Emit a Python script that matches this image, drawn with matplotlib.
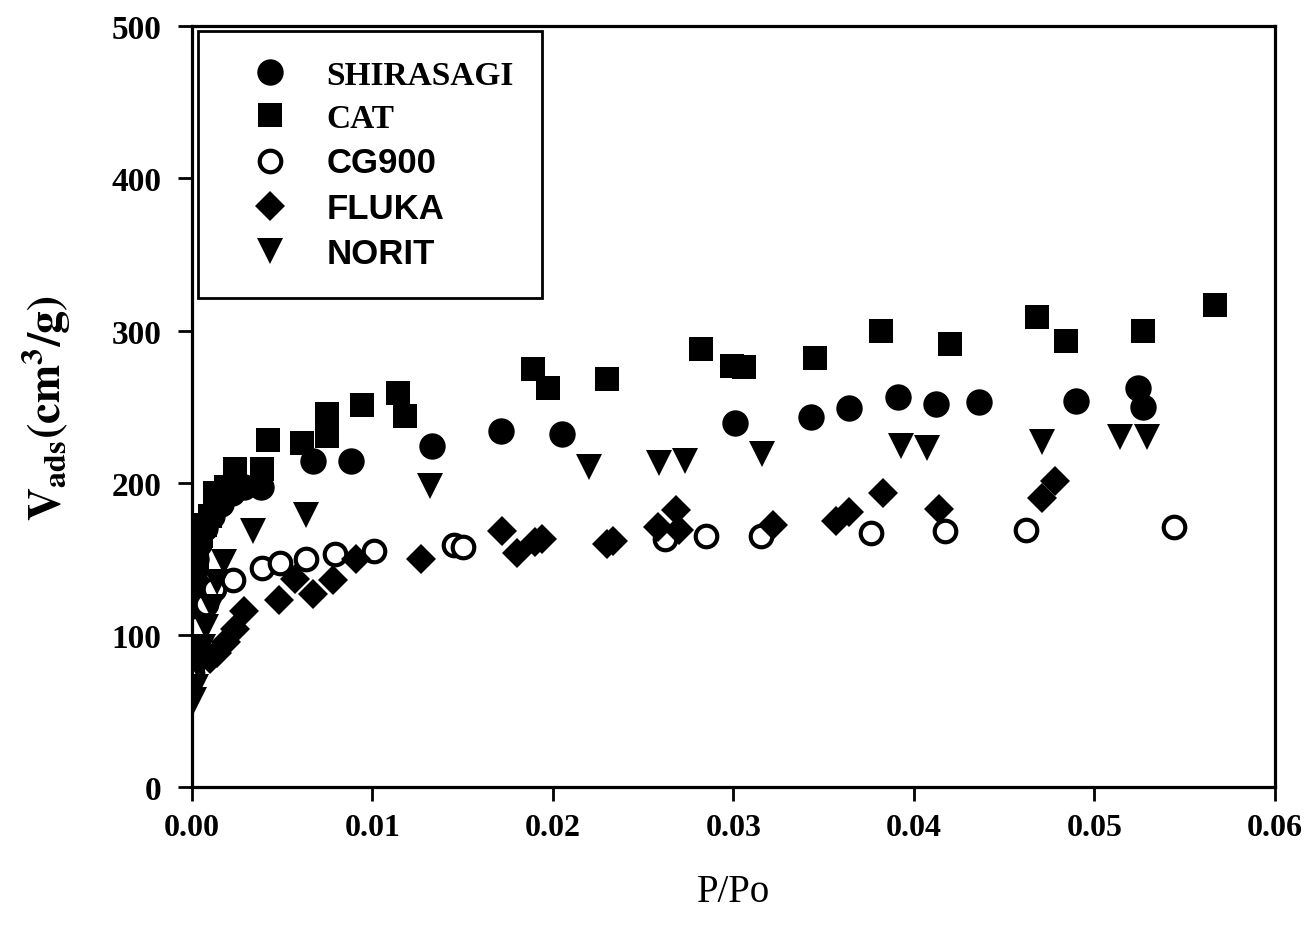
import matplotlib
matplotlib.use("Agg")
import matplotlib.pyplot as plt

# P/Po and adsorbed volume (cm3/g)
shirasagi_x = [0.0001, 0.0002, 0.0004, 0.0007, 0.0011, 0.0016, 0.0022, 0.0029, 0.0038,
               0.0067, 0.0088, 0.0133, 0.0171, 0.0205, 0.0301, 0.0343, 0.0364,
               0.0391, 0.0412, 0.0436, 0.0490, 0.0524, 0.0527]
shirasagi_y = [140, 150, 160, 170, 178, 186, 193, 197, 197,
               214, 214, 224, 234, 232, 239, 243, 249,
               256, 252, 253, 254, 262, 250]

cat_x = [0.0001, 0.0002, 0.0003, 0.0005, 0.0007, 0.0010, 0.0013, 0.0019, 0.0024, 0.0039,
         0.0042, 0.0061, 0.0075, 0.0075, 0.0094, 0.0114, 0.0118, 0.0189, 0.0197, 0.0230,
         0.0282, 0.0299, 0.0306, 0.0345, 0.0382, 0.0420, 0.0468, 0.0484, 0.0527, 0.0567]
cat_y = [110, 130, 150, 165, 172, 178, 193, 197, 209, 209,
         228, 226, 231, 245, 251, 259, 244, 275, 262, 268,
         288, 277, 276, 282, 300, 291, 309, 293, 300, 317]

cg900_x = [0.0000, 0.0001, 0.0003, 0.0008, 0.0012, 0.0023, 0.0039, 0.0049, 0.0063, 0.0079,
           0.0101, 0.0145, 0.0150, 0.0262, 0.0285, 0.0315, 0.0376, 0.0417, 0.0462, 0.0544]
cg900_y = [75, 85, 105, 120, 130, 136, 144, 147, 150, 153,
           155, 159, 158, 163, 165, 165, 167, 168, 169, 171]

fluka_x = [0.0003, 0.0006, 0.0010, 0.0014, 0.0019, 0.0024, 0.0029, 0.0048, 0.0057, 0.0067,
           0.0078, 0.0091, 0.0127, 0.0172, 0.0180, 0.0190, 0.0194, 0.0230, 0.0233, 0.0258,
           0.0268, 0.0270, 0.0322, 0.0357, 0.0364, 0.0383, 0.0414, 0.0471, 0.0478]
fluka_y = [90, 86, 84, 88, 95, 104, 116, 123, 137, 127,
           136, 150, 150, 168, 154, 161, 163, 160, 162, 171,
           182, 169, 172, 175, 181, 193, 183, 190, 201]

norit_x = [0.0001, 0.0002, 0.0004, 0.0006, 0.0008, 0.0011, 0.0014, 0.0018, 0.0034, 0.0063,
           0.0132, 0.0220, 0.0259, 0.0273, 0.0316, 0.0393, 0.0407, 0.0471, 0.0514, 0.0529]
norit_y = [57, 66, 78, 92, 105, 118, 135, 148, 168, 179,
           198, 210, 213, 214, 219, 224, 223, 227, 230, 230]

x_ticks = [0.00, 0.01, 0.02, 0.03, 0.04, 0.05, 0.06]
y_ticks = [0, 100, 200, 300, 400, 500]

plt.rcParams['mathtext.fontset'] = 'stix'
serif = 'Liberation Serif'
sans = 'Liberation Sans'

fig = plt.figure(figsize=(13.13, 9.37), dpi=100)
ax = fig.add_axes([0.1462, 0.159, 0.8248, 0.812])

ax.plot(shirasagi_x, shirasagi_y, 'o', color='black', ms=19, mew=0, label='SHIRASAGI')
ax.plot(cat_x, cat_y, 's', color='black', ms=17, mew=0, label='CAT')
ax.plot(cg900_x, cg900_y, 'o', mfc='white', mec='black', ms=15.5, mew=3, label='CG900')
ax.plot(fluka_x, fluka_y, 'D', color='black', ms=15.5, mew=0, label='FLUKA')
ax.plot(norit_x, norit_y, 'v', color='black', ms=19, mew=0, label='NORIT')

ax.set_xlim(0, 0.06)
ax.set_ylim(0, 500)
ax.set_xticks(x_ticks)
ax.set_yticks(y_ticks)
ax.set_xticklabels(['%.2f' % t for t in x_ticks], fontfamily=serif, fontweight='bold', fontsize=23)
ax.set_yticklabels([str(t) for t in y_ticks], fontfamily=serif, fontweight='bold', fontsize=24)
ax.tick_params(direction='out', length=10, width=2, pad=9)
ax.tick_params(axis='y', pad=12)
for s in ax.spines.values():
    s.set_linewidth(2.3)

ax.set_xlabel('P/Po', fontfamily=serif, fontsize=28, labelpad=22)
ax.set_ylabel(r'$\mathbf{V_{ads}(cm^3/g)}$', fontsize=33, labelpad=28)

leg = ax.legend(loc='upper left', bbox_to_anchor=(0.0055, 0.993), fontsize=24,
                frameon=True, fancybox=False, edgecolor='black', framealpha=1,
                handletextpad=0.4, labelspacing=0.37, borderpad=0.85,
                handlelength=2.6, borderaxespad=0)
leg.get_frame().set_linewidth(2)
for i, t in enumerate(leg.get_texts()):
    t.set_fontweight('bold')
    t.set_fontfamily(serif if i < 2 else sans)
    if i >= 2:
        t.set_fontsize(25)

fig.savefig('out.png', dpi=100)
